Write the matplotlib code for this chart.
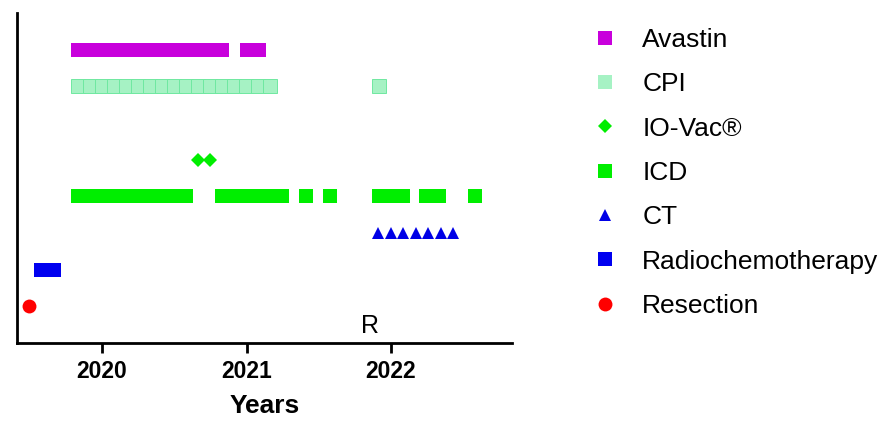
import matplotlib

matplotlib.use('Agg')

import matplotlib.pyplot as plt

plt.rcParams['font.family'] = ['Liberation Sans', 'DejaVu Sans']

# treatment dates in decimal years, one row per treatment
avastin = [2019.834, 2019.917, 2020.0, 2020.083, 2020.166, 2020.249, 2020.332,
           2020.415, 2020.498, 2020.581, 2020.664, 2020.747, 2020.830,
           2021.003, 2021.087]
cpi = [2019.834, 2019.917, 2020.0, 2020.083, 2020.166, 2020.249, 2020.332,
       2020.415, 2020.498, 2020.581, 2020.664, 2020.747, 2020.830, 2020.913,
       2020.996, 2021.079, 2021.163, 2021.917]
iovac = [2020.664, 2020.747]
icd = [2019.834, 2019.917, 2020.0, 2020.083, 2020.166, 2020.249, 2020.332,
       2020.415, 2020.498, 2020.581,
       2020.830, 2020.913, 2020.996, 2021.079, 2021.163, 2021.246,
       2021.412, 2021.578, 2021.917, 2022.0, 2022.083, 2022.242, 2022.332,
       2022.581]
ct = [2021.910, 2021.997, 2022.083, 2022.173, 2022.256, 2022.346, 2022.429]
radiochemo = [2019.578, 2019.622, 2019.668]
resection = [2019.495]

rows = {'Avastin': 8, 'CPI': 7, 'IO-Vac®': 5, 'ICD': 4, 'CT': 3,
        'Radiochemotherapy': 2, 'Resection': 1}
years = [2020, 2021, 2022]

fig = plt.figure(figsize=(8.85, 4.21), dpi=100)
ax = fig.add_axes([17 / 885, 78 / 421, 495 / 885, 330 / 421])

h = []
h += ax.plot(avastin, [rows['Avastin']] * len(avastin), 's', color='#C800DC',
             ms=10, mew=0, label='Avastin')
ax.plot(cpi, [rows['CPI']] * len(cpi), 's', mfc='#A6F2C4', mec='#6FE8A0',
        ms=10, mew=0.7)
h += ax.plot([], [], 's', color='#A6F2C4', ms=10, mew=0, label='CPI')
h += ax.plot(iovac, [rows['IO-Vac®']] * len(iovac), 'D', color='#00EE00',
             ms=7, mew=0, label='IO-Vac®')
h += ax.plot(icd, [rows['ICD']] * len(icd), 's', color='#00EE00',
             ms=10, mew=0, label='ICD')
h += ax.plot(ct, [rows['CT']] * len(ct), '^', color='#0000E6',
             ms=9, mew=0, label='CT')
h += ax.plot(radiochemo, [rows['Radiochemotherapy']] * len(radiochemo), 's',
             color='#0000F0', ms=10, mew=0, label='Radiochemotherapy')
h += ax.plot(resection, [rows['Resection']] * len(resection), 'o',
             color='#FF0000', ms=10, mew=0, label='Resection')

ax.text(2021.855, 0.47, 'R', fontsize=18, ha='center', va='center')

ax.set_xlim(2019.412, 2022.837)
ax.set_ylim(0, 9)
ax.set_xticks(years)
ax.set_xticklabels([str(y) for y in years], fontsize=16.5, fontweight='bold')
ax.set_yticks([])
ax.tick_params('x', length=7, width=2, pad=5)
ax.spines['top'].set_visible(False)
ax.spines['right'].set_visible(False)
ax.spines['left'].set_linewidth(2)
ax.spines['bottom'].set_linewidth(2)
ax.set_xlabel('Years', fontsize=19, fontweight='bold', labelpad=8)

fig.legend(handles=h, loc='upper left', bbox_to_anchor=(592 / 885, 1 - 28 / 421),
           frameon=False, fontsize=19, numpoints=1, handlelength=1.0,
           handletextpad=0.9, labelspacing=0.77, borderpad=0, borderaxespad=0)

plt.savefig('out.png', dpi=100)
plt.close(fig)
